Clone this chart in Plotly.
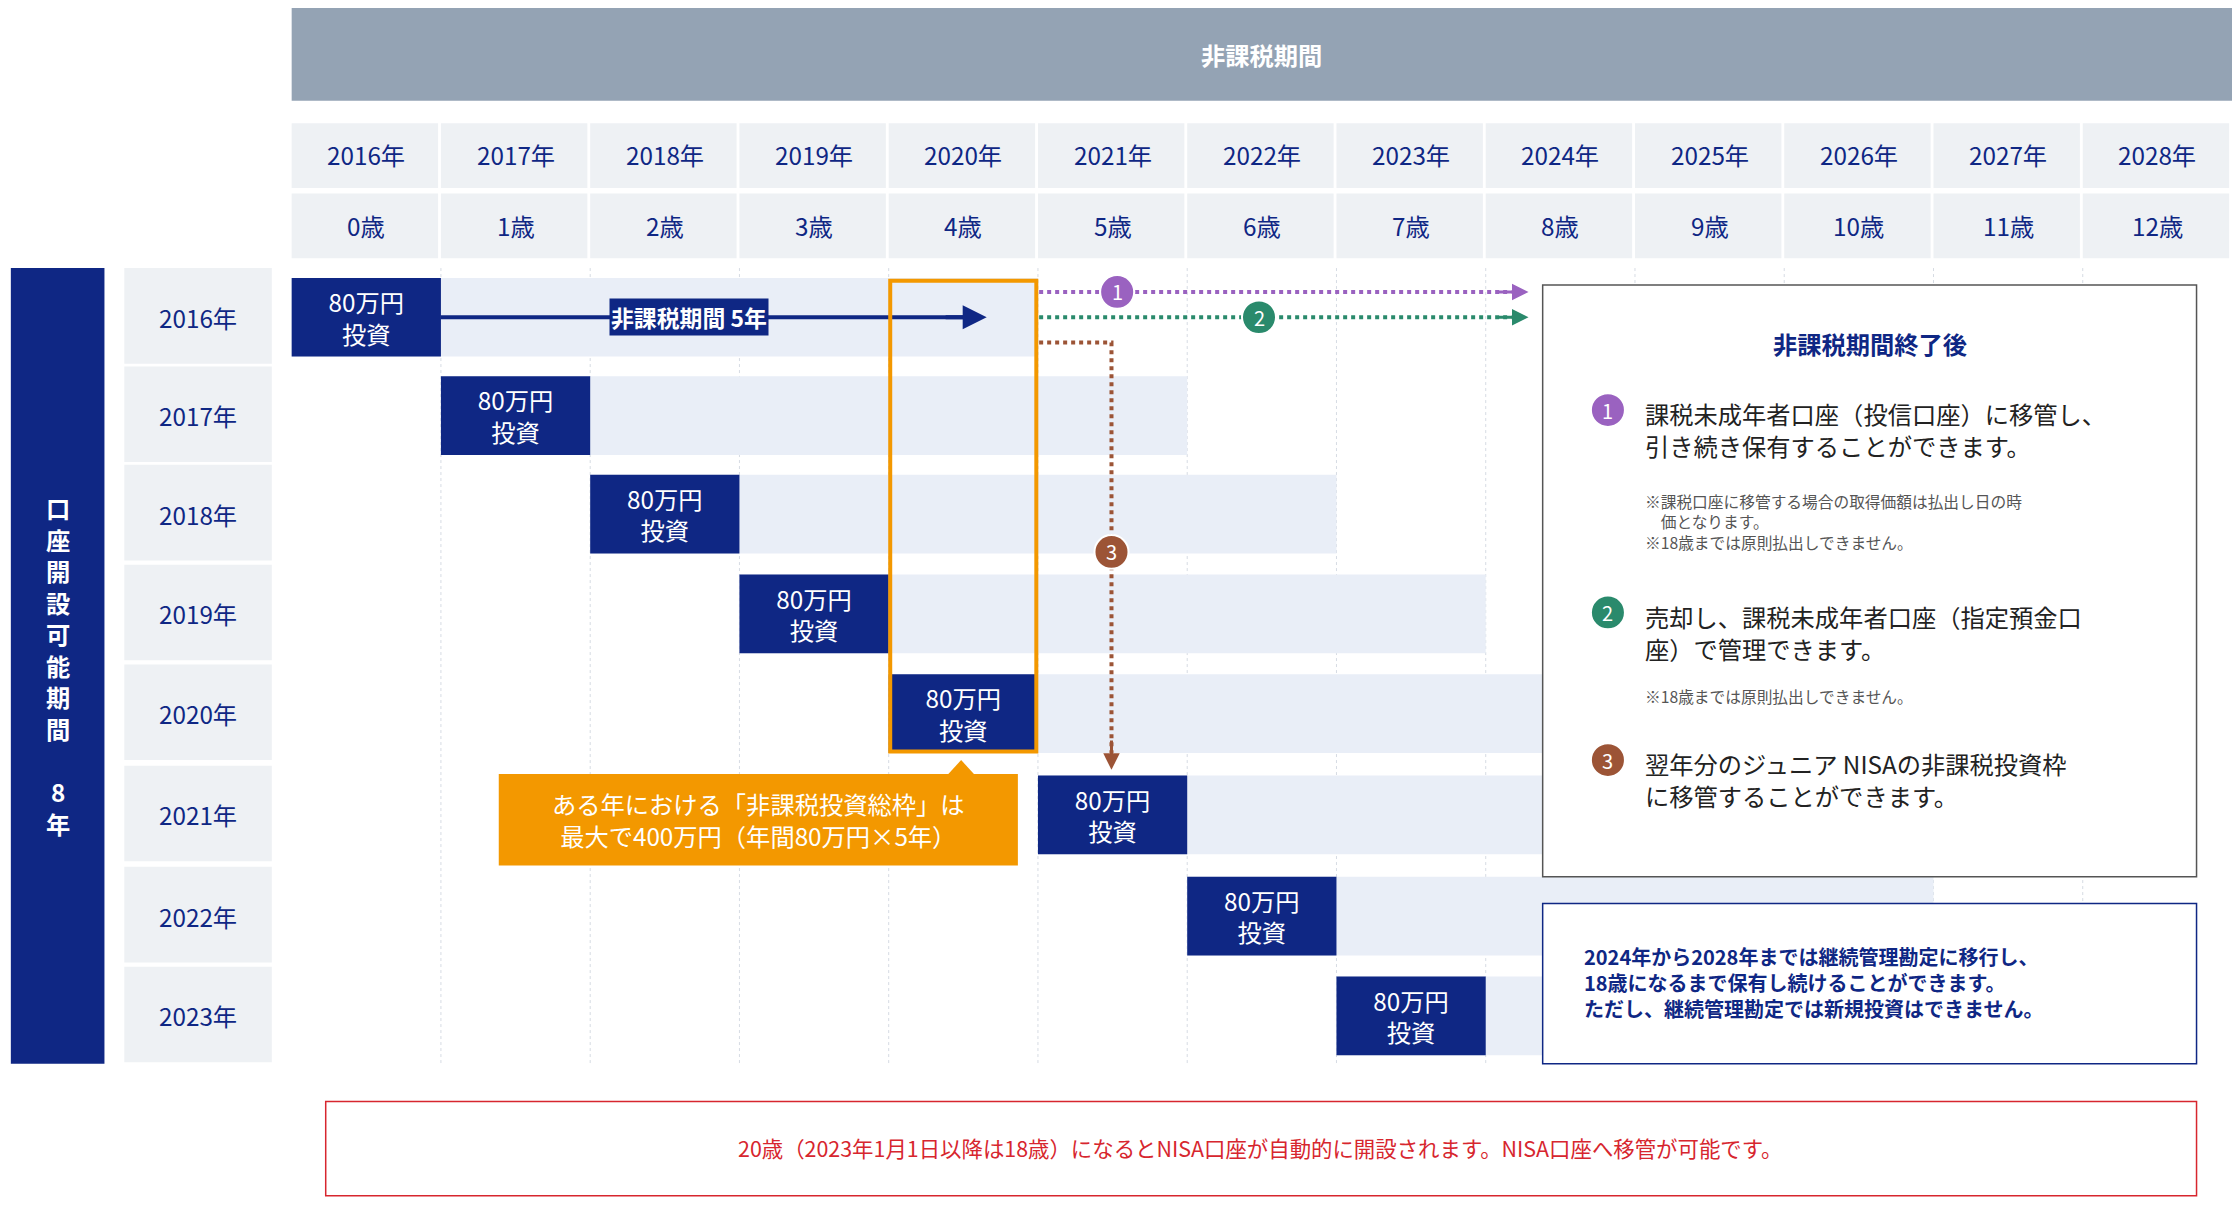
import plotly.graph_objects as go

# ---- data ----
YEARS = list(range(2016, 2029))
AGES = [f"{a}歳" for a in range(13)]
OPEN_YEARS = list(range(2016, 2024))
ROW_Y = [220, 290, 360, 431, 502, 574, 646, 717]     # row centres (px of 1568x848 sketch)
INVEST_LABEL = "80万円<br>投資"
TAX_FREE_YEARS = 5

NAVY = "#0f2784"
BAND = "#e9eef7"
HEAD = "#eef1f4"
ORANGE = "#f39800"
PURPLE = "#9a62c0"
GREEN = "#2a8a6c"
BROWN = "#9c5436"
RED = "#d7262e"
FONT = "Noto Sans CJK JP"

COLW = 1368 / 13.0
def X(px):  # sketch px -> year axis
    return 2016 + (px - 200) / COLW

S = 1.4286  # sketch -> screen scale for fonts

fig = go.Figure()
shapes, ann = [], []

def rect(x0, y0, x1, y1, fill=None, line=None, lw=0, dash=None, layer="below"):
    shapes.append(dict(type="rect", xref="x", yref="y", x0=X(x0), x1=X(x1), y0=y0, y1=y1,
                       fillcolor=fill or "rgba(0,0,0,0)",
                       line=dict(color=line or "rgba(0,0,0,0)", width=lw, dash=dash), layer=layer))

def text(x, y, t, size, color="#1a2a6c", bold=False, align="center", xanchor="center"):
    ann.append(dict(x=X(x), y=y, xref="x", yref="y", text=f"<b>{t}</b>" if bold else t,
                    showarrow=False, font=dict(size=size * S, color=color, family=FONT),
                    align=align, xanchor=xanchor, yanchor="middle"))

# top header
rect(200, 0, 1568, 66, fill="#94a3b4")
text(884, 33, "非課税期間", 17, color="white", bold=True)
for i, (yr, age) in enumerate(zip(YEARS, AGES)):
    x0 = 200 + i * COLW
    rect(x0, 82, x0 + COLW - 2, 128, fill=HEAD)
    rect(x0, 132, x0 + COLW - 2, 178, fill=HEAD)
    text(x0 + COLW / 2, 104, f"{yr}年", 17, color=NAVY)
    text(x0 + COLW / 2, 155, age, 17, color=NAVY)
    if i > 0:
        shapes.append(dict(type="line", x0=X(x0), x1=X(x0), y0=185, y1=751, layer="below",
                           line=dict(color="#d6dbe3", width=1, dash="dot")))

# left labels
rect(2, 185, 68, 751, fill=NAVY)
text(35, 468, "口<br>座<br>開<br>設<br>可<br>能<br>期<br>間<br><br>8<br>年", 17, color="white", bold=True)
for y, oy in zip(ROW_Y, OPEN_YEARS):
    rect(82, y - 35, 186, y + 33, fill=HEAD)
    text(134, y, f"{oy}年", 17, color=NAVY)

# tax-free bands and investment boxes
fig.add_trace(go.Bar(orientation="h", y=ROW_Y, base=OPEN_YEARS, x=[TAX_FREE_YEARS] * len(OPEN_YEARS),
                     width=56, marker=dict(color=BAND, line=dict(width=0)), hoverinfo="skip"))
fig.add_trace(go.Bar(orientation="h", y=ROW_Y, base=OPEN_YEARS, x=[1] * len(OPEN_YEARS),
                     width=56, marker=dict(color=NAVY, line=dict(width=0)),
                     text=[INVEST_LABEL] * len(OPEN_YEARS), textposition="inside",
                     insidetextanchor="middle",
                     textfont=dict(color="white", size=17 * S, family=FONT), hoverinfo="skip"))

# arrows from 2016 row
shapes.append(dict(type="line", x0=X(305), x1=X(675), y0=220, y1=220, line=dict(color=NAVY, width=4)))
ann.append(dict(x=X(690), y=220, ax=X(660), ay=220, axref="x", ayref="y", xref="x", yref="y",
                showarrow=True, arrowhead=2, arrowsize=1.2, arrowwidth=4, arrowcolor=NAVY, text=""))
ann.append(dict(x=X(480), y=220, xref="x", yref="y", text="<b>非課税期間 5年</b>", showarrow=False,
                bgcolor=NAVY, font=dict(size=16 * S, color="white", family=FONT)))

for yy, col in ((202, PURPLE), (220, GREEN)):
    shapes.append(dict(type="line", x0=X(727), x1=X(1060), y0=yy, y1=yy, line=dict(color=col, width=4, dash="dot")))
    ann.append(dict(x=X(1072), y=yy, ax=X(1050), ay=yy, axref="x", ayref="y", xref="x", yref="y",
                    showarrow=True, arrowhead=2, arrowsize=1.1, arrowwidth=3, arrowcolor=col, text=""))
shapes.append(dict(type="path", path=f"M {X(727)} 238 L {X(778)} 238 L {X(778)} 530",
                   line=dict(color=BROWN, width=4, dash="dot")))
ann.append(dict(x=X(778), y=542, ax=X(778), ay=520, axref="x", ayref="y", xref="x", yref="y",
                showarrow=True, arrowhead=2, arrowsize=1.1, arrowwidth=3, arrowcolor=BROWN, text=""))

def circ(x, y, n, col, r=12):
    shapes.append(dict(type="circle", x0=X(x - r), x1=X(x + r), y0=y - r, y1=y + r,
                       fillcolor=col, line=dict(color="white", width=2), layer="above"))
    text(x, y, n, 14, color="white")

circ(782, 202, "1", PURPLE)
circ(882, 220, "2", GREEN)
circ(778, 387, "3", BROWN)

# orange frame + callout
rect(622, 194, 725, 529, line=ORANGE, lw=4, layer="above")
shapes.append(dict(type="path", path=f"M {X(662)} 546 L {X(672)} 535 L {X(682)} 546 Z",
                   fillcolor=ORANGE, line=dict(width=0)))
rect(346, 545, 712, 610, fill=ORANGE, layer="above")
text(529, 577, "ある年における「非課税投資総枠」は<br>最大で400万円（年間80万円×5年）", 17, color="white")

# right explanation box
rect(1082, 197, 1543, 618, fill="white", line="#555", lw=1.5, layer="above")
text(1313, 239, "非課税期間終了後", 17, color=NAVY, bold=True)
circ(1128, 286, "1", PURPLE)
text(1153, 300, "課税未成年者口座（投信口座）に移管し、<br>引き続き保有することができます。", 17, color="#222", align="left", xanchor="left")
text(1153, 366, "※課税口座に移管する場合の取得価額は払出し日の時<br>　価となります。<br>※18歳までは原則払出しできません。", 11, color="#555", align="left", xanchor="left")
circ(1128, 430, "2", GREEN)
text(1153, 444, "売却し、課税未成年者口座（指定預金口<br>座）で管理できます。", 17, color="#222", align="left", xanchor="left")
text(1153, 490, "※18歳までは原則払出しできません。", 11, color="#555", align="left", xanchor="left")
circ(1128, 535, "3", BROWN)
text(1153, 549, "翌年分のジュニア NISAの非課税投資枠<br>に移管することができます。", 17, color="#222", align="left", xanchor="left")

rect(1082, 637, 1543, 751, fill="white", line=NAVY, lw=1.5, layer="above")
text(1110, 693, "2024年から2028年までは継続管理勘定に移行し、<br>18歳になるまで保有し続けることができます。<br>ただし、継続管理勘定では新規投資はできません。",
     14, color=NAVY, bold=True, align="left", xanchor="left")

rect(224, 778, 1543, 845, fill="white", line=RED, lw=1.5)
text(883, 811, "20歳（2023年1月1日以降は18歳）になるとNISA口座が自動的に開設されます。NISA口座へ移管が可能です。", 15, color=RED)

fig.update_layout(
    shapes=shapes, annotations=ann, barmode="overlay", showlegend=False,
    margin=dict(l=0, r=0, t=0, b=0), plot_bgcolor="white", paper_bgcolor="white",
    xaxis=dict(range=[X(0), X(1568)], visible=False, fixedrange=True),
    yaxis=dict(range=[848, 0], visible=False, fixedrange=True),
    font=dict(family=FONT),
)
fig.write_html("out.html")
